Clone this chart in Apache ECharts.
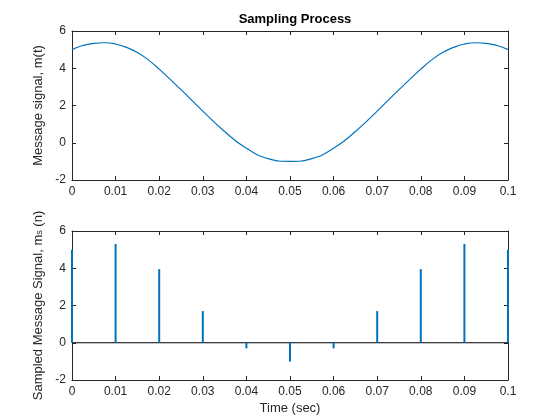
<!DOCTYPE html>
<html><head><meta charset="utf-8">
<script src="https://cdn.jsdelivr.net/npm/echarts@6/dist/echarts.min.js"></script>
<style>html,body{margin:0;background:#fff}#c{width:560px;height:420px}</style>
</head><body><div id="c"></div>
<script>
// message signal m(t)
const tCurve = [0, 0.0025, 0.005, 0.0075, 0.01, 0.0125, 0.015, 0.0175, 0.02, 0.025, 0.03, 0.035, 0.04, 0.045, 0.05,
  0.055, 0.06, 0.065, 0.07, 0.075, 0.08, 0.0825, 0.085, 0.0875, 0.09, 0.0925, 0.095, 0.0975, 0.1];
const mCurve = [5.0, 5.22, 5.34, 5.37, 5.3, 5.12, 4.85, 4.45, 3.95, 2.85, 1.7, 0.6, -0.3, -0.85, -1.0,
  -0.85, -0.3, 0.6, 1.7, 2.85, 3.95, 4.45, 4.85, 5.12, 5.3, 5.37, 5.34, 5.22, 5.0];
// sampled values
const tSamp = [0, 0.01, 0.02, 0.03, 0.04, 0.05, 0.06, 0.07, 0.08, 0.09, 0.1];
const mSamp = [5.0, 5.3, 3.95, 1.7, -0.3, -1.0, -0.3, 1.7, 3.95, 5.3, 5.0];

const blue = '#0072bd';
const font = 'Arial, "Liberation Sans", sans-serif';
const chart = echarts.init(document.getElementById('c'));

function xAxis(i, name) {
  return {
    gridIndex: i, type: 'value', min: 0, max: 0.1, interval: 0.01,
    name: name, nameLocation: 'middle', nameGap: 22,
    nameTextStyle: {color: '#262626', fontSize: 13, fontFamily: font},
    axisLine: {show: true, onZero: false, lineStyle: {color: '#262626'}},
    axisTick: {inside: true, length: 4, lineStyle: {color: '#262626'}},
    axisLabel: {color: '#262626', fontSize: 12, fontFamily: font, margin: 6,
      formatter: v => String(+v.toFixed(2))},
    splitLine: {show: false}
  };
}
function xTop(i) {
  return {gridIndex: i, type: 'value', min: 0, max: 0.1, interval: 0.01, position: 'top',
    axisLine: {show: true, onZero: false, lineStyle: {color: '#262626'}},
    axisTick: {inside: true, length: 4, lineStyle: {color: '#262626'}},
    axisLabel: {show: false}, splitLine: {show: false}};
}
function yAxis(i, name) {
  return {
    gridIndex: i, type: 'value', min: -2, max: 6, interval: 2,
    name: name, nameLocation: 'middle', nameGap: 24, nameRotate: 90,
    nameTextStyle: {color: '#262626', fontSize: 13, fontFamily: font,
      rich: {s: {fontSize: 9, verticalAlign: 'bottom', color: '#262626'}}},
    axisLine: {show: true, onZero: false, lineStyle: {color: '#262626'}},
    axisTick: {inside: true, length: 4, lineStyle: {color: '#262626'}},
    axisLabel: {color: '#262626', fontSize: 12, fontFamily: font, margin: 6},
    splitLine: {show: false}
  };
}
function yRight(i) {
  return {gridIndex: i, type: 'value', min: -2, max: 6, interval: 2, position: 'right',
    axisLine: {show: true, onZero: false, lineStyle: {color: '#262626'}},
    axisTick: {inside: true, length: 4, lineStyle: {color: '#262626'}},
    axisLabel: {show: false}, splitLine: {show: false}};
}

chart.setOption({
  animation: false,
  backgroundColor: '#fff',
  title: {text: 'Sampling Process', left: 290, top: 8, textAlign: 'center',
    textStyle: {fontSize: 13, fontWeight: 'bold', color: '#000', fontFamily: font}},
  grid: [
    {left: 72, right: 52, top: 31, height: 149},
    {left: 72, right: 52, top: 231, height: 149}
  ],
  xAxis: [xAxis(0, ''), xAxis(1, 'Time (sec)'), xTop(0), xTop(1)],
  yAxis: [yAxis(0, 'Message signal, m(t)'), yAxis(1, 'Sampled Message Signal, m{s|s} (n)'), yRight(0), yRight(1)],
  series: [
    {type: 'line', xAxisIndex: 0, yAxisIndex: 0, data: tCurve.map((t, i) => [t, mCurve[i]]),
      smooth: true, showSymbol: false, lineStyle: {color: blue, width: 1.2}},
    {type: 'line', xAxisIndex: 1, yAxisIndex: 1, data: [[0, 0], [0.1, 0]], showSymbol: false,
      lineStyle: {color: '#000', width: 1}},
    ...tSamp.map((t, i) => ({
      type: 'line', xAxisIndex: 1, yAxisIndex: 1, data: [[t, 0], [t, mSamp[i]]],
      showSymbol: false, lineStyle: {color: blue, width: 2}
    }))
  ]
});
</script></body></html>
